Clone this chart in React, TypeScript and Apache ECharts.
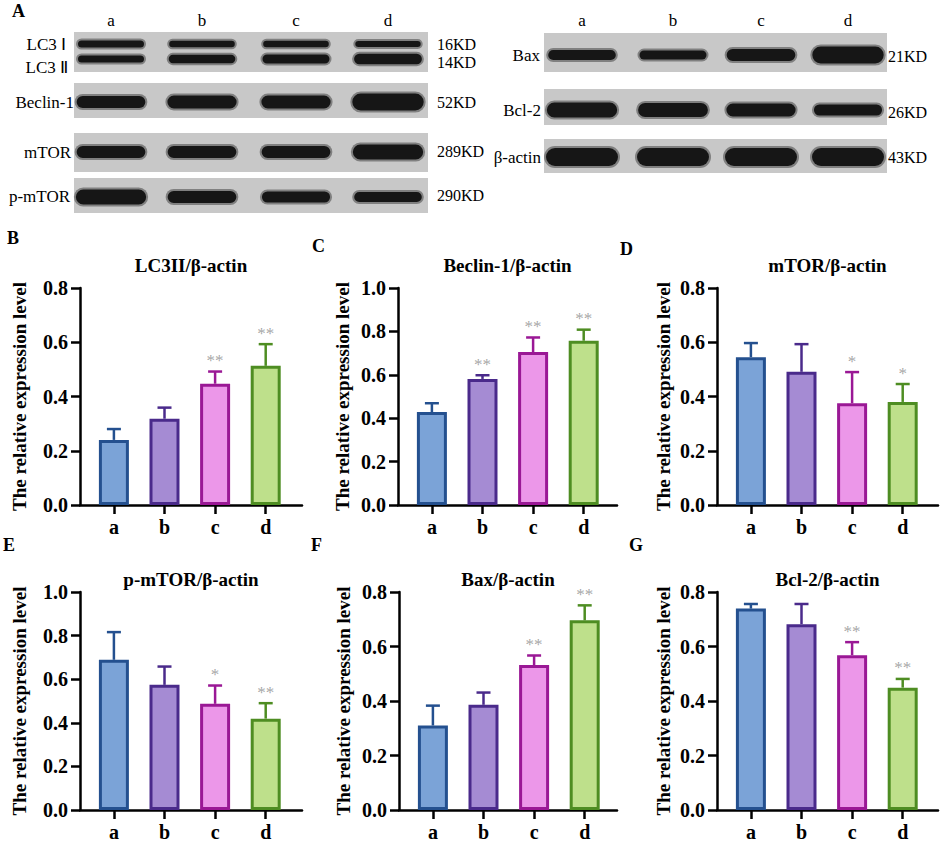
import React, { useEffect, useRef } from 'react';
import * as echarts from 'echarts';

const FONT = "'Liberation Serif', 'Times New Roman', serif";

// ---- bar chart data ----
const CATEGORIES = ['a', 'b', 'c', 'd'];
const FILL_COLORS = ['#7ba3d7', '#a58bd3', '#ec97e9', '#bee08b'];
const EDGE_COLORS = ['#24508f', '#4a2a8b', '#9a1895', '#4e8d22'];
const Y_NAME = 'The relative expression level';
const X_MIN = 0.33;

const LC3_MEAN = [0.24, 0.318, 0.447, 0.513];
const LC3_SD = [0.04, 0.041, 0.045, 0.08];
const LC3_SIG = ['', '', '**', '**'];

const BECLIN_MEAN = [0.428, 0.581, 0.705, 0.757];
const BECLIN_SD = [0.041, 0.017, 0.067, 0.051];
const BECLIN_SIG = ['', '**', '**', '**'];

const MTOR_MEAN = [0.545, 0.491, 0.375, 0.38];
const MTOR_SD = [0.052, 0.102, 0.115, 0.066];
const MTOR_SIG = ['', '', '*', '*'];

const PMTOR_MEAN = [0.689, 0.574, 0.487, 0.419];
const PMTOR_SD = [0.127, 0.084, 0.084, 0.071];
const PMTOR_SIG = ['', '', '*', '**'];

const BAX_MEAN = [0.31, 0.386, 0.532, 0.696];
const BAX_SD = [0.073, 0.045, 0.035, 0.055];
const BAX_SIG = ['', '', '**', '**'];

const BCL2_MEAN = [0.739, 0.682, 0.568, 0.449];
const BCL2_SD = [0.017, 0.074, 0.048, 0.032];
const BCL2_SIG = ['', '', '**', '**'];

// ---- western blot band intensities (0..1) ----
const LANE_LABELS = ['a', 'b', 'c', 'd'];
const LC3I_BAND = [0.4, 0.36, 0.36, 0.34];
const LC3II_BAND = [0.4, 0.46, 0.5, 0.58];
const BECLIN_BAND = [0.67, 0.72, 0.72, 0.94];
const MTOR_BAND = [0.67, 0.67, 0.67, 0.83];
const PMTOR_BAND = [0.83, 0.67, 0.61, 0.56];
const BAX_BAND = [0.56, 0.5, 0.67, 0.94];
const BCL2_BAND = [0.83, 0.78, 0.72, 0.61];
const ACTIN_BAND = [1, 1, 1, 1];

const PANELS = [
  { letter: 'B', title: 'LC3II/β-actin', mean: LC3_MEAN, sd: LC3_SD, sig: LC3_SIG, max: 0.8, left: 80, top: 288, width: 222, height: 217, lx: 7, ly: 238, gap: 51 },
  { letter: 'C', title: 'Beclin-1/β-actin', mean: BECLIN_MEAN, sd: BECLIN_SD, sig: BECLIN_SIG, max: 1.0, left: 398, top: 288, width: 219, height: 217, lx: 312, ly: 246, gap: 46 },
  { letter: 'D', title: 'mTOR/β-actin', mean: MTOR_MEAN, sd: MTOR_SD, sig: MTOR_SIG, max: 0.8, left: 717, top: 288, width: 221, height: 217, lx: 620, ly: 249, gap: 44 },
  { letter: 'E', title: 'p-mTOR/β-actin', mean: PMTOR_MEAN, sd: PMTOR_SD, sig: PMTOR_SIG, max: 1.0, left: 80, top: 592, width: 222, height: 218, lx: 3, ly: 545, gap: 51 },
  { letter: 'F', title: 'Bax/β-actin', mean: BAX_MEAN, sd: BAX_SD, sig: BAX_SIG, max: 0.8, left: 399, top: 592, width: 218, height: 218, lx: 311, ly: 545, gap: 46 },
  { letter: 'G', title: 'Bcl-2/β-actin', mean: BCL2_MEAN, sd: BCL2_SD, sig: BCL2_SIG, max: 0.8, left: 717, top: 592, width: 221, height: 218, lx: 629, ly: 545, gap: 44 },
];

const LEFT_BLOT = {
  x0: 74, x1: 428, lanes: [111, 202, 296, 388], kdX: 437,
  strips: [
    { y0: 32, y1: 72, bands: [{ y: 44, vals: LC3I_BAND }, { y: 59, vals: LC3II_BAND }],
      labels: [{ t: 'LC3 Ⅰ', y: 44, r: 66 }, { t: 'LC3 Ⅱ', y: 67, r: 68 }], kd: [{ t: '16KD', y: 44 }, { t: '14KD', y: 62 }] },
    { y0: 83, y1: 118, bands: [{ y: 102, vals: BECLIN_BAND }], labels: [{ t: 'Beclin-1', y: 102, r: 74 }], kd: [{ t: '52KD', y: 102 }] },
    { y0: 133, y1: 172, bands: [{ y: 152, vals: MTOR_BAND }], labels: [{ t: 'mTOR', y: 152, r: 71 }], kd: [{ t: '289KD', y: 151 }] },
    { y0: 178, y1: 213, bands: [{ y: 197, vals: PMTOR_BAND }], labels: [{ t: 'p-mTOR', y: 196, r: 70 }], kd: [{ t: '290KD', y: 195 }] },
  ],
};
const RIGHT_BLOT = {
  x0: 544, x1: 887, lanes: [582, 673, 761, 848], kdX: 888,
  strips: [
    { y0: 33, y1: 72, bands: [{ y: 55, vals: BAX_BAND }], labels: [{ t: 'Bax', y: 55, r: 540 }], kd: [{ t: '21KD', y: 56 }] },
    { y0: 89, y1: 125, bands: [{ y: 110, vals: BCL2_BAND }], labels: [{ t: 'Bcl-2', y: 110, r: 541 }], kd: [{ t: '26KD', y: 112 }] },
    { y0: 139, y1: 173, bands: [{ y: 157, vals: ACTIN_BAND }], labels: [{ t: 'β-actin', y: 157, r: 541 }], kd: [{ t: '43KD', y: 157 }] },
  ],
};

// text placed with title components (left = anchor x, top = middle y)
function label(text: string, x: number, y: number, size: number, align: string, bold = false) {
  return {
    text, left: x, top: y, padding: 0, textAlign: align, textVerticalAlign: 'middle',
    textStyle: { color: '#000', fontFamily: FONT, fontSize: size, fontWeight: bold ? 'bold' : 'normal' },
  };
}

function blotRects(blot: any) {
  const els: any[] = [];
  blot.strips.forEach((s: any) => {
    els.push({ type: 'rect', shape: { x: blot.x0, y: s.y0, width: blot.x1 - blot.x0, height: s.y1 - s.y0 }, style: { fill: '#c8c8c8' } });
    s.bands.forEach((b: any) => {
      b.vals.forEach((v: number, i: number) => {
        const h = 18 * v;
        const w = 62 + 10 * v;
        const cx = blot.lanes[i];
        els.push({ type: 'rect', shape: { x: cx - w / 2 - 2, y: b.y - h / 2 - 2, width: w + 4, height: h + 4, r: h / 2 + 2 }, style: { fill: 'rgba(40,40,40,0.45)' } });
        els.push({ type: 'rect', shape: { x: cx - w / 2, y: b.y - h / 2, width: w, height: h, r: h / 2 }, style: { fill: '#161616' } });
      });
    });
  });
  return els;
}

function blotLabels(blot: any) {
  const out: any[] = [];
  blot.strips.forEach((s: any) => {
    s.labels.forEach((l: any) => out.push(label(l.t, l.r, l.y, 17, 'right')));
    s.kd.forEach((k: any) => out.push(label(k.t, blot.kdX, k.y, 16, 'left')));
  });
  LANE_LABELS.forEach((t, i) => out.push(label(t, blot.lanes[i], 20, 17, 'center')));
  return out;
}

export default function App() {
  const ref = useRef<HTMLDivElement>(null);
  useEffect(() => {
    document.body.style.margin = '0';
    const chart = echarts.init(ref.current!, null, { renderer: 'svg' });
    const grid: any[] = [];
    const xAxis: any[] = [];
    const yAxis: any[] = [];
    const series: any[] = [];
    const title: any[] = [];

    PANELS.forEach((p, k) => {
      grid.push({ left: p.left, top: p.top, width: p.width, height: p.height });
      const xMax = X_MIN + p.width / 50.6;
      xAxis.push({
        type: 'value', gridIndex: k, min: X_MIN, max: xMax,
        axisLine: { show: true, onZero: false, lineStyle: { color: '#000', width: 2.5 } },
        splitLine: { show: false },
        axisTick: { show: true, length: 9, lineStyle: { color: '#000', width: 2.5 }, customValues: [1, 2, 3, 4] },
        axisLabel: { color: '#000', fontFamily: FONT, fontWeight: 'bold', fontSize: 20, margin: 12, customValues: [1, 2, 3, 4], formatter: (v: number) => CATEGORIES[Math.round(v) - 1] || '' },
      });
      yAxis.push({
        type: 'value', gridIndex: k, min: 0, max: p.max, interval: 0.2,
        axisLine: { show: true, onZero: false, lineStyle: { color: '#000', width: 2.5 } },
        splitLine: { show: false },
        axisTick: { show: true, length: 9, lineStyle: { color: '#000', width: 2.5 } },
        axisLabel: { color: '#000', fontFamily: FONT, fontWeight: 'bold', fontSize: 20, margin: 12, formatter: (v: number) => v.toFixed(1) },
        name: Y_NAME, nameLocation: 'middle', nameRotate: 90, nameGap: p.gap,
        nameTextStyle: { color: '#000', fontFamily: FONT, fontWeight: 'bold', fontSize: 19 },
      });
      series.push({
        type: 'bar', xAxisIndex: k, yAxisIndex: k, barWidth: 30,
        data: p.mean.map((m, j) => ({
          value: [j + 1, m],
          itemStyle: { color: FILL_COLORS[j], borderColor: EDGE_COLORS[j], borderWidth: 3 },
        })),
      });
      // error bars (lines only)
      series.push({
        type: 'custom', xAxisIndex: k, yAxisIndex: k, z: 5,
        encode: { x: 0, y: 1 },
        data: p.mean.map((m, j) => [j + 1, m, p.sd[j]]),
        renderItem: (params: any, api: any) => {
          const i = params.dataIndex;
          const x = api.value(0), m = api.value(1), e = api.value(2);
          const b = api.coord([x, m]);
          const t = api.coord([x, m + e]);
          const col = EDGE_COLORS[i];
          return {
            type: 'group', children: [
              { type: 'line', shape: { x1: b[0], y1: b[1], x2: t[0], y2: t[1] }, style: { stroke: col, lineWidth: 2.5 } },
              { type: 'line', shape: { x1: t[0] - 7, y1: t[1], x2: t[0] + 7, y2: t[1] }, style: { stroke: col, lineWidth: 2.5 } },
            ],
          };
        },
      });
      // significance marks as labels of invisible points at the error-bar tips
      series.push({
        type: 'scatter', xAxisIndex: k, yAxisIndex: k, z: 6, silent: true,
        symbol: 'circle', symbolSize: 1, itemStyle: { color: 'rgba(0,0,0,0)' },
        data: p.mean.map((m, j) => ({ name: p.sig[j], value: [j + 1, m + p.sd[j]] })).filter((d) => d.name),
        label: { show: true, position: 'top', distance: 2, formatter: '{b}', color: '#8f8f8f', fontFamily: FONT, fontSize: 17 },
      });
      const titleY = k < 3 ? 265 : 579;
      title.push(label(p.title, p.left + p.width / 2, titleY, 19, 'center', true));
      title.push(label(p.letter, p.lx, p.ly, 18, 'left', true));
    });

    title.push(label('A', 12, 11, 18, 'left', true));
    title.push(...blotLabels(LEFT_BLOT));
    title.push(...blotLabels(RIGHT_BLOT));

    // western blot strips and bands (panel A), shapes only
    series.push({
      type: 'custom', coordinateSystem: 'none', silent: true, z: 1,
      data: [0],
      renderItem: () => ({ type: 'group', children: [...blotRects(LEFT_BLOT), ...blotRects(RIGHT_BLOT)] }),
    });

    chart.setOption({ animation: false, title, grid, xAxis, yAxis, series });
    return () => chart.dispose();
  }, []);
  return <div ref={ref} style={{ width: 941, height: 842 }} />;
}
